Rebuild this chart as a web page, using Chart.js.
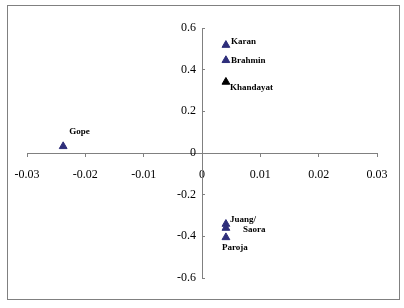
<!DOCTYPE html>
<html>
<head>
<meta charset="utf-8">
<script src="https://cdn.jsdelivr.net/npm/chart.js@4/dist/chart.umd.min.js"></script>
<style>
  html, body { margin: 0; padding: 0; background: #fff; }
  #wrap { width: 404px; height: 308px; position: relative; }
</style>
</head>
<body>
<div id="wrap"><canvas id="chart" width="404" height="308"></canvas></div>
<script>
// castes plotted on the first two axes
const groups = ["Karan", "Brahmin", "Khandayat", "Gope", "Juang/", "Saora", "Paroja"];
const axis1 = [0.0041, 0.0041, 0.0041, -0.0238, 0.0041, 0.0041, 0.0041];
const axis2 = [0.518, 0.445, 0.341, 0.032, -0.341, -0.36, -0.405];
const xTicks = [-0.03, -0.02, -0.01, 0, 0.01, 0.02, 0.03];
const yTicks = [-0.6, -0.4, -0.2, 0, 0.2, 0.4, 0.6];

// where each name sits relative to its marker
const labelShift = {
  "Karan": [5, -3], "Brahmin": [5, 0], "Khandayat": [4, 6], "Gope": [6, -15],
  "Juang/": [4, -4], "Saora": [17, 2], "Paroja": [-4, 10]
};

const points = groups.map((g, i) => ({ x: axis1[i], y: axis2[i] }));
const fill = groups.map(g => g === "Khandayat" ? "#000000" : "#2e2e7a");

const pointNames = {
  id: "pointNames",
  afterDatasetsDraw(chart) {
    const ctx = chart.ctx;
    const meta = chart.getDatasetMeta(0);
    ctx.save();
    ctx.font = "bold 9px 'Liberation Serif', 'Times New Roman', serif";
    ctx.fillStyle = "#000";
    ctx.textAlign = "left";
    ctx.textBaseline = "middle";
    meta.data.forEach((el, i) => {
      const s = labelShift[groups[i]] || [5, 0];
      ctx.fillText(groups[i], el.x + s[0], el.y + s[1]);
    });
    ctx.restore();
  }
};

const frame = {
  id: "frame",
  beforeDraw(chart) {
    const ctx = chart.ctx;
    ctx.save();
    ctx.strokeStyle = "#808080";
    ctx.lineWidth = 1;
    ctx.strokeRect(7.5, 5.5, 392, 294);
    ctx.restore();
  }
};

const tickFont = { family: "'Liberation Serif', 'Times New Roman', serif", size: 12 };

new Chart(document.getElementById("chart"), {
  type: "scatter",
  data: {
    datasets: [{
      data: points,
      pointStyle: "triangle",
      pointRadius: 4.5,
      pointHoverRadius: 4.5,
      backgroundColor: fill,
      borderColor: fill,
      borderWidth: 1
    }]
  },
  options: {
    responsive: false,
    animation: false,
    events: [],
    layout: { padding: { left: 27, right: 27, top: 28, bottom: 30 } },
    plugins: { legend: { display: false }, tooltip: { enabled: false } },
    scales: {
      x: {
        type: "linear",
        position: { y: 0 },
        min: -0.03, max: 0.03,
        afterFit: s => { s.height = 0; },
        afterBuildTicks: s => { s.ticks = xTicks.map(v => ({ value: v })); },
        ticks: { font: tickFont, color: "#000", padding: 12, maxRotation: 0,
                 callback: v => String(Math.round(v * 100) / 100) },
        grid: { drawOnChartArea: false, drawTicks: true, tickLength: 3, color: "#808080" },
        border: { display: true, color: "#808080" }
      },
      y: {
        type: "linear",
        position: { x: 0 },
        min: -0.6, max: 0.6,
        afterFit: s => { s.width = 0; },
        afterBuildTicks: s => { s.ticks = yTicks.map(v => ({ value: v })); },
        // labels are right-aligned on the axis line, trailing space keeps them clear of it
        ticks: { font: tickFont, color: "#000", padding: 0,
                 callback: v => String(Math.round(v * 10) / 10) + "\u2002" },
        grid: { drawOnChartArea: false, drawTicks: true, tickLength: -3, color: "#808080" },
        border: { display: true, color: "#808080" }
      }
    }
  },
  plugins: [frame, pointNames]
});
</script>
</body>
</html>
